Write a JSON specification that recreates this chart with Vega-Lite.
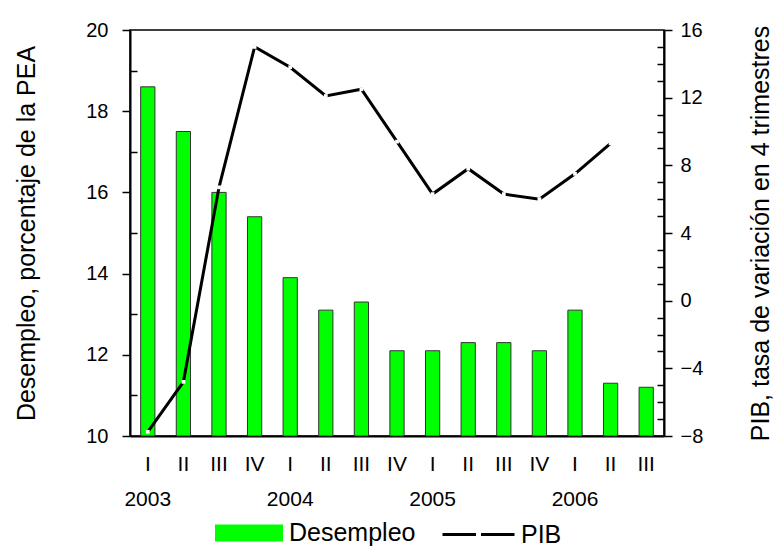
{
  "$schema": "https://vega.github.io/schema/vega-lite/v6.json",
  "width": 534,
  "height": 406,
  "autosize": {"type": "none"},
  "padding": {"left": 130, "top": 30, "right": 114, "bottom": 112},
  "background": "white",
  "config": {
    "font": "Liberation Sans",
    "view": {"stroke": "black", "strokeWidth": 1.5},
    "axis": {
      "grid": false,
      "labelColor": "black",
      "titleColor": "black",
      "domainColor": "black",
      "tickColor": "black",
      "labelFont": "Liberation Sans",
      "titleFont": "Liberation Sans",
      "labelFontSize": 20,
      "titleFontSize": 25,
      "titleFontWeight": "normal"
    },
    "legend": {
      "labelFont": "Liberation Sans",
      "labelFontSize": 25,
      "labelColor": "black"
    }
  },
  "data": {
    "values": [
      {"q": "2003-I", "des": 18.6, "pib": -7.75},
      {"q": "2003-II", "des": 17.5, "pib": -4.8},
      {"q": "2003-III", "des": 16.0, "pib": 6.7},
      {"q": "2003-IV", "des": 15.4, "pib": 15.0},
      {"q": "2004-I", "des": 13.9, "pib": 13.8},
      {"q": "2004-II", "des": 13.1, "pib": 12.1},
      {"q": "2004-III", "des": 13.3, "pib": 12.5},
      {"q": "2004-IV", "des": 12.1, "pib": 9.4},
      {"q": "2005-I", "des": 12.1, "pib": 6.3},
      {"q": "2005-II", "des": 12.3, "pib": 7.8},
      {"q": "2005-III", "des": 12.3, "pib": 6.3},
      {"q": "2005-IV", "des": 12.1, "pib": 6.0},
      {"q": "2006-I", "des": 13.1, "pib": 7.5},
      {"q": "2006-II", "des": 11.3, "pib": 9.3},
      {"q": "2006-III", "des": 11.2, "pib": null}
    ]
  },
  "encoding": {
    "x": {
      "field": "q",
      "type": "ordinal",
      "sort": null,
      "scale": {"paddingInner": 0.6, "paddingOuter": 0.3},
      "axis": {
        "title": null,
        "ticks": false,
        "domainWidth": 2,
        "labelAngle": 0,
        "labelFontSize": 21,
        "labelPadding": 17,
        "labelLineHeight": 35,
        "labelBaseline": "top",
        "labelOverlap": false,
        "labelExpr": "[split(datum.value,'-')[1], split(datum.value,'-')[1] == 'I' ? split(datum.value,'-')[0] : '']"
      }
    }
  },
  "layer": [
    {
      "mark": {"type": "bar", "stroke": "#333333", "strokeWidth": 1},
      "encoding": {
        "y": {
          "field": "des",
          "type": "quantitative",
          "scale": {"domain": [10, 20], "zero": false, "nice": false},
          "axis": {
            "orient": "left",
            "title": "Desempleo, porcentaje de la PEA",
            "values": [10, 11, 12, 13, 14, 15, 16, 17, 18, 19, 20],
            "labelExpr": "datum.value % 2 == 0 ? datum.label : ''",
            "tickSize": {"condition": {"test": "datum.value % 2 == 0", "value": 8}, "value": -7},
            "tickWidth": 1.5,
            "domainWidth": 2,
            "labelPadding": 14,
            "titlePadding": 46
          }
        },
        "y2": {"datum": 10},
        "fill": {
          "datum": "Desempleo",
          "scale": {"range": ["#00FF00"]},
          "legend": {
            "orient": "none",
            "legendX": 102,
            "legendY": 486,
            "title": null,
            "symbolType": "M-2,-0.5H2V0.5H-2Z",
            "symbolSize": 1156,
            "symbolStrokeWidth": 0,
            "symbolOpacity": 1,
            "labelOffset": 23
          }
        }
      }
    },
    {
      "encoding": {
        "y": {
          "field": "pib",
          "type": "quantitative",
          "scale": {"domain": [-8, 16], "nice": false, "zero": false},
          "axis": {
            "orient": "right",
            "title": "PIB, tasa de variación en 4 trimestres",
            "titleAngle": 270,
            "values": [-8, -7, -6, -5, -4, -3, -2, -1, 0, 1, 2, 3, 4, 5, 6, 7, 8, 9, 10, 11, 12, 13, 14, 15, 16],
            "labelExpr": "datum.value % 4 == 0 ? datum.label : ''",
            "tickSize": {"condition": {"test": "datum.value % 4 == 0", "value": 8}, "value": -7},
            "tickWidth": 1.5,
            "domainWidth": 2,
            "labelPadding": 8,
            "titlePadding": 71
          }
        }
      },
      "layer": [
        {
          "mark": {"type": "line", "strokeWidth": 3},
          "encoding": {
            "stroke": {
              "datum": "PIB",
              "scale": {"range": ["#000000"]},
              "legend": {
                "orient": "none",
                "legendX": 329,
                "legendY": 485,
                "title": null,
                "symbolType": "M-2,0H-0.14M0.14,0H2",
                "symbolSize": 1296,
                "symbolStrokeWidth": 3,
                "symbolStrokeColor": "black",
                "symbolFillColor": "transparent",
                "labelOffset": 23
              }
            }
          }
        },
        {
          "mark": {"type": "point", "shape": "square", "filled": true, "fill": "white", "size": 14, "opacity": 1, "strokeWidth": 0},
          "encoding": {}
        }
      ]
    }
  ],
  "resolve": {"scale": {"y": "independent"}}
}
